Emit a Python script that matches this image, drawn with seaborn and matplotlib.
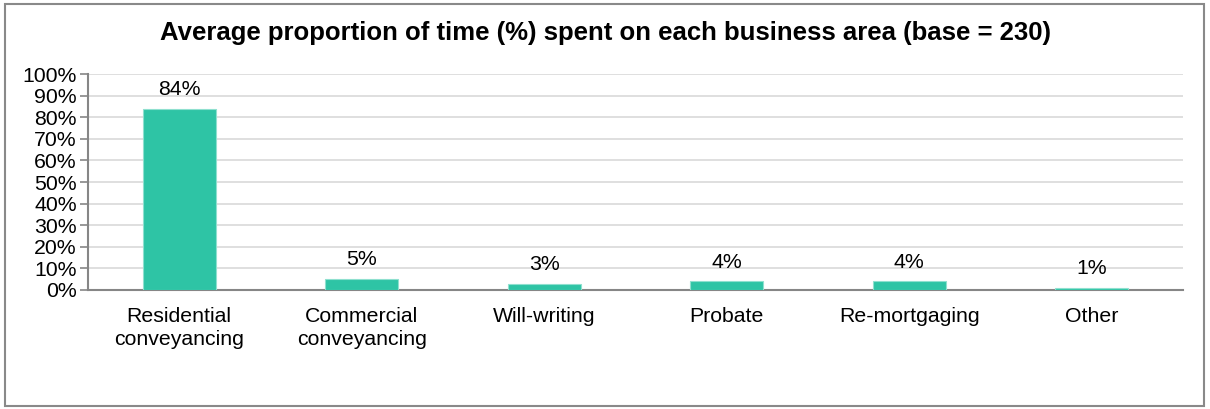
import matplotlib
matplotlib.use("Agg")
import matplotlib.pyplot as plt
import matplotlib.patches as patches
import pandas as pd
import seaborn as sns
from matplotlib.ticker import FixedLocator, PercentFormatter

categories = ["Residential\nconveyancing", "Commercial\nconveyancing", "Will-writing",
              "Probate", "Re-mortgaging", "Other"]
values = [84, 5, 3, 4, 4, 1]
labels = ["84%", "5%", "3%", "4%", "4%", "1%"]

data = pd.DataFrame({"area": categories, "share": values})

sns.set_theme(style="white")
plt.rcParams["font.family"] = ["Liberation Sans", "DejaVu Sans"]

fig = plt.figure(figsize=(12.1, 4.09), dpi=100)
ax = fig.add_axes([0.0727, 0.291, 0.905, 0.528])

sns.barplot(ax=ax, data=data, x="area", y="share", color="#2EC4A5",
            saturation=1, width=0.4, zorder=3, edgecolor="#8FE0CF", linewidth=0.8)

ax.set_ylim(0, 100)
ax.set_xlim(-0.5, len(categories) - 0.5)
ax.yaxis.set_major_locator(FixedLocator(range(0, 101, 10)))
ax.yaxis.set_major_formatter(PercentFormatter(decimals=0))
ax.grid(axis="y", color="#D9D9D9", linewidth=1.2, zorder=0)
ax.set_xlabel("")
ax.set_ylabel("")

for side in ["top", "right"]:
    ax.spines[side].set_visible(False)
for side in ["left", "bottom"]:
    ax.spines[side].set_color("#868686")
    ax.spines[side].set_linewidth(1.5)

# ticks at category boundaries on x, labels centered without ticks
ax.set_xticks(range(len(categories)))
ax.set_xticklabels(categories, linespacing=1.3)
ax.set_xticks([i + 0.5 for i in range(-1, len(categories))], minor=True)
ax.tick_params(axis="x", which="minor", length=6, width=1.2, color="#868686", direction="out")
ax.tick_params(axis="x", which="major", length=0, pad=12, labelsize=15.3, labelcolor="black")
ax.tick_params(axis="y", length=6, width=1.2, color="#868686", direction="out",
               left=True, pad=2, labelsize=15.3, labelcolor="black")

for i, (v, lab) in enumerate(zip(values, labels)):
    ax.annotate(lab, (i, v), xytext=(0, 7), textcoords="offset points",
                ha="center", va="bottom", fontsize=15.3, color="black")

fig.text(0.5, 0.919, "Average proportion of time (%) spent on each business area (base = 230)",
         ha="center", va="center", fontsize=18.5, fontweight="bold", color="black")

fig.add_artist(patches.Rectangle((0.004, 0.008), 0.991, 0.982, transform=fig.transFigure,
                                 fill=False, edgecolor="#898989", linewidth=1.5))

fig.savefig("out.png", dpi=100)
